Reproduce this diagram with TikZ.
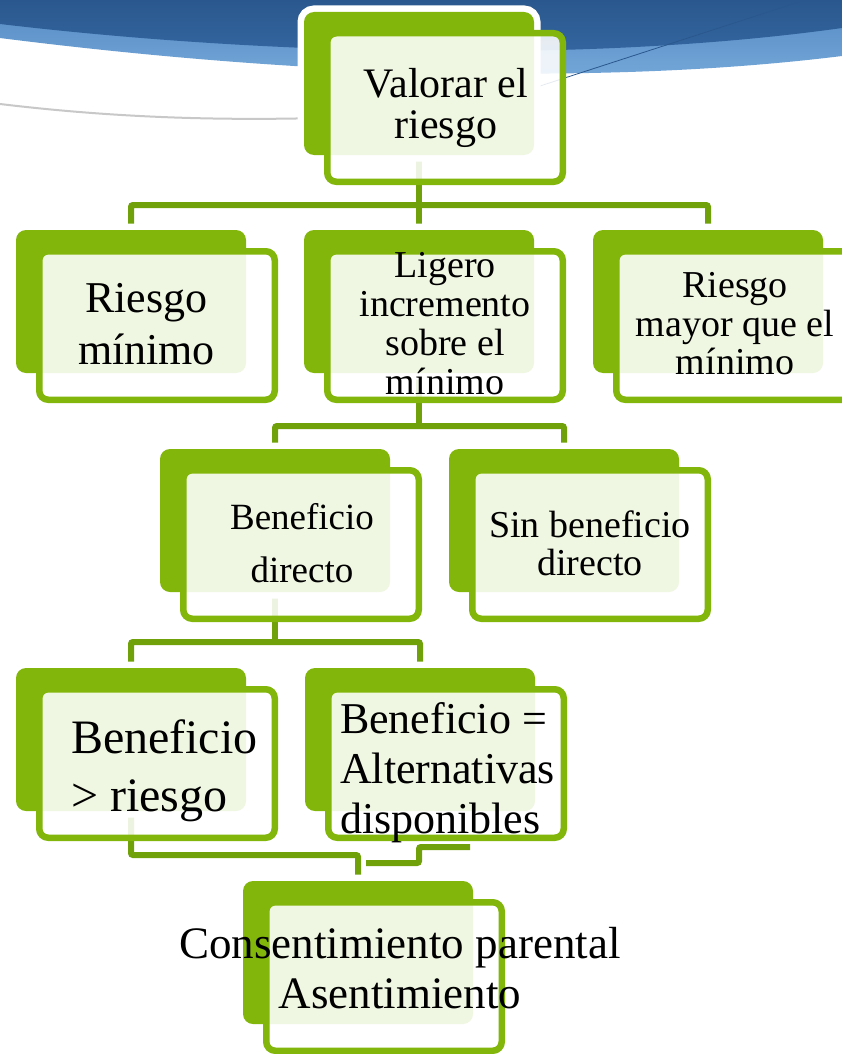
\documentclass[tikz,border=0pt]{standalone}
\usepackage{fontspec}
\setmainfont{Liberation Serif}
\usetikzlibrary{calc}
\pgfdeclarelayer{bg}
\pgfdeclarelayer{conn}
\pgfsetlayers{bg,conn,main}
\definecolor{leaf}{RGB}{130,182,10}
\definecolor{connc}{RGB}{112,160,10}
\definecolor{deepblue}{RGB}{42,88,142}
\definecolor{midblue}{RGB}{54,104,162}
\definecolor{skyblue}{RGB}{84,138,196}
\definecolor{paleblue}{RGB}{120,170,218}
\definecolor{gline}{RGB}{200,200,200}
\begin{document}
\begin{tikzpicture}[x=1pt,y=-1pt,
  backbox/.style={rectangle, rounded corners=10pt, fill=leaf, inner sep=0pt, outer sep=0pt,
    minimum width=230pt, minimum height=143pt, preaction={draw=white, line width=13pt}},
  frontbox/.style={rectangle, rounded corners=9pt, draw=leaf, line width=6.5pt, fill=white,
    fill opacity=0.88, inner sep=0pt, outer sep=0pt, minimum width=235.5pt, minimum height=148.5pt},
  txt/.style={inner sep=0pt, outer sep=0pt, text=black, align=center},
  conn/.style={draw=connc, line width=6pt, rounded corners=2pt}]
\useasboundingbox (0,0) rectangle (842,1054);

% back boxes
\node[backbox] (A) at (419,83.5) {};
\node[backbox] (B) at (131,301.5) {};
\node[backbox] (C) at (419,301.5) {};
\node[backbox] (D) at (708,301.5) {};
\node[backbox] (E) at (275,520.5) {};
\node[backbox] (F) at (564,520.5) {};
\node[backbox] (G) at (131,739.5) {};
\node[backbox] (H) at (420,739.5) {};
\node[backbox] (I) at (358,952.5) {};

% front boxes
\node[frontbox] (Af) at (445,107.5) {};
\node[frontbox] (Bf) at (157,325.5) {};
\node[frontbox] (Cf) at (445,325.5) {};
\node[frontbox] (Df) at (734,325.5) {};
\node[frontbox] (Ef) at (301,544.5) {};
\node[frontbox] (Ff) at (590,544.5) {};
\node[frontbox] (Gf) at (157,763.5) {};
\node[frontbox] (Hf) at (446,763.5) {};
\node[frontbox] (If) at (384,976.5) {};

% texts
\node[txt, font=\fontsize{42}{41.5}\selectfont] (At) at (446,107.8) {Valorar el\\riesgo};
\node[txt, font=\fontsize{44}{52}\selectfont] (Bt) at (146.5,324.5) {Riesgo\\mínimo};
\node[txt, font=\fontsize{38}{39}\selectfont] (Ct) at (445,323.5) {Ligero\\incremento\\sobre el\\mínimo};
\node[txt, font=\fontsize{38}{38.5}\selectfont] (Dt) at (735,324) {Riesgo\\mayor que el\\mínimo};
\node[txt, font=\fontsize{37}{53}\selectfont] (Et) at (302,542.8) {Beneficio\\directo};
\node[txt, font=\fontsize{38}{38}\selectfont] (Ft) at (590,543) {Sin beneficio\\directo};
\node[txt, align=left, anchor=west, font=\fontsize{48}{58}\selectfont] (Gt) at (71,770.8) {Beneficio\\> riesgo};
\node[txt, align=left, anchor=west, font=\fontsize{44}{50}\selectfont] (Ht) at (340,772.8) {Beneficio =\\Alternativas\\disponibles};
\node[txt, font=\fontsize{45}{50}\selectfont] (It) at (400,967.7) {Consentimiento parental\\Asentimiento};

% connectors
\coordinate (hx) at (470,847);
\coordinate (hy) at (366,863);
\begin{pgfonlayer}{conn}
\draw[conn] (A.south) -- (C.north);
\draw[conn] (B.north) -- ++(0,-25) -| (D.north);
\draw[conn] (C.south) -- ($(C.south |- E.north)+(0,-23)$);
\draw[conn] (E.north) -- ++(0,-23) -| (F.north);
\draw[conn] (E.south) -- ($(E.south |- G.north)+(0,-26)$);
\draw[conn] (G.north) -- ++(0,-26) -| (H.north);
\draw[conn] (G.south) -- ++(0,44) -| (I.north);
\draw[conn] (hx) -- ++(-51,0) -- ++(0,16) -- (hy);
\end{pgfonlayer}

% background
\begin{pgfonlayer}{bg}
\fill[white] (0,0) rectangle (842,1054);
\shade[top color=skyblue, bottom color=paleblue] (0,0) -- (842,0) -- (842,56) .. controls (600,86) and (300,76) .. (0,38) -- cycle;
\shade[top color=deepblue, bottom color=midblue] (0,0) -- (842,0) -- (842,28) .. controls (600,62) and (280,57) .. (0,24) -- cycle;
\draw[deepblue, line width=0.8pt] (540,86) -- (805,0);
\draw[gline, line width=2pt] (0,104) .. controls (100,116) and (200,121) .. (320,118);
\end{pgfonlayer}
\end{tikzpicture}
\end{document}
